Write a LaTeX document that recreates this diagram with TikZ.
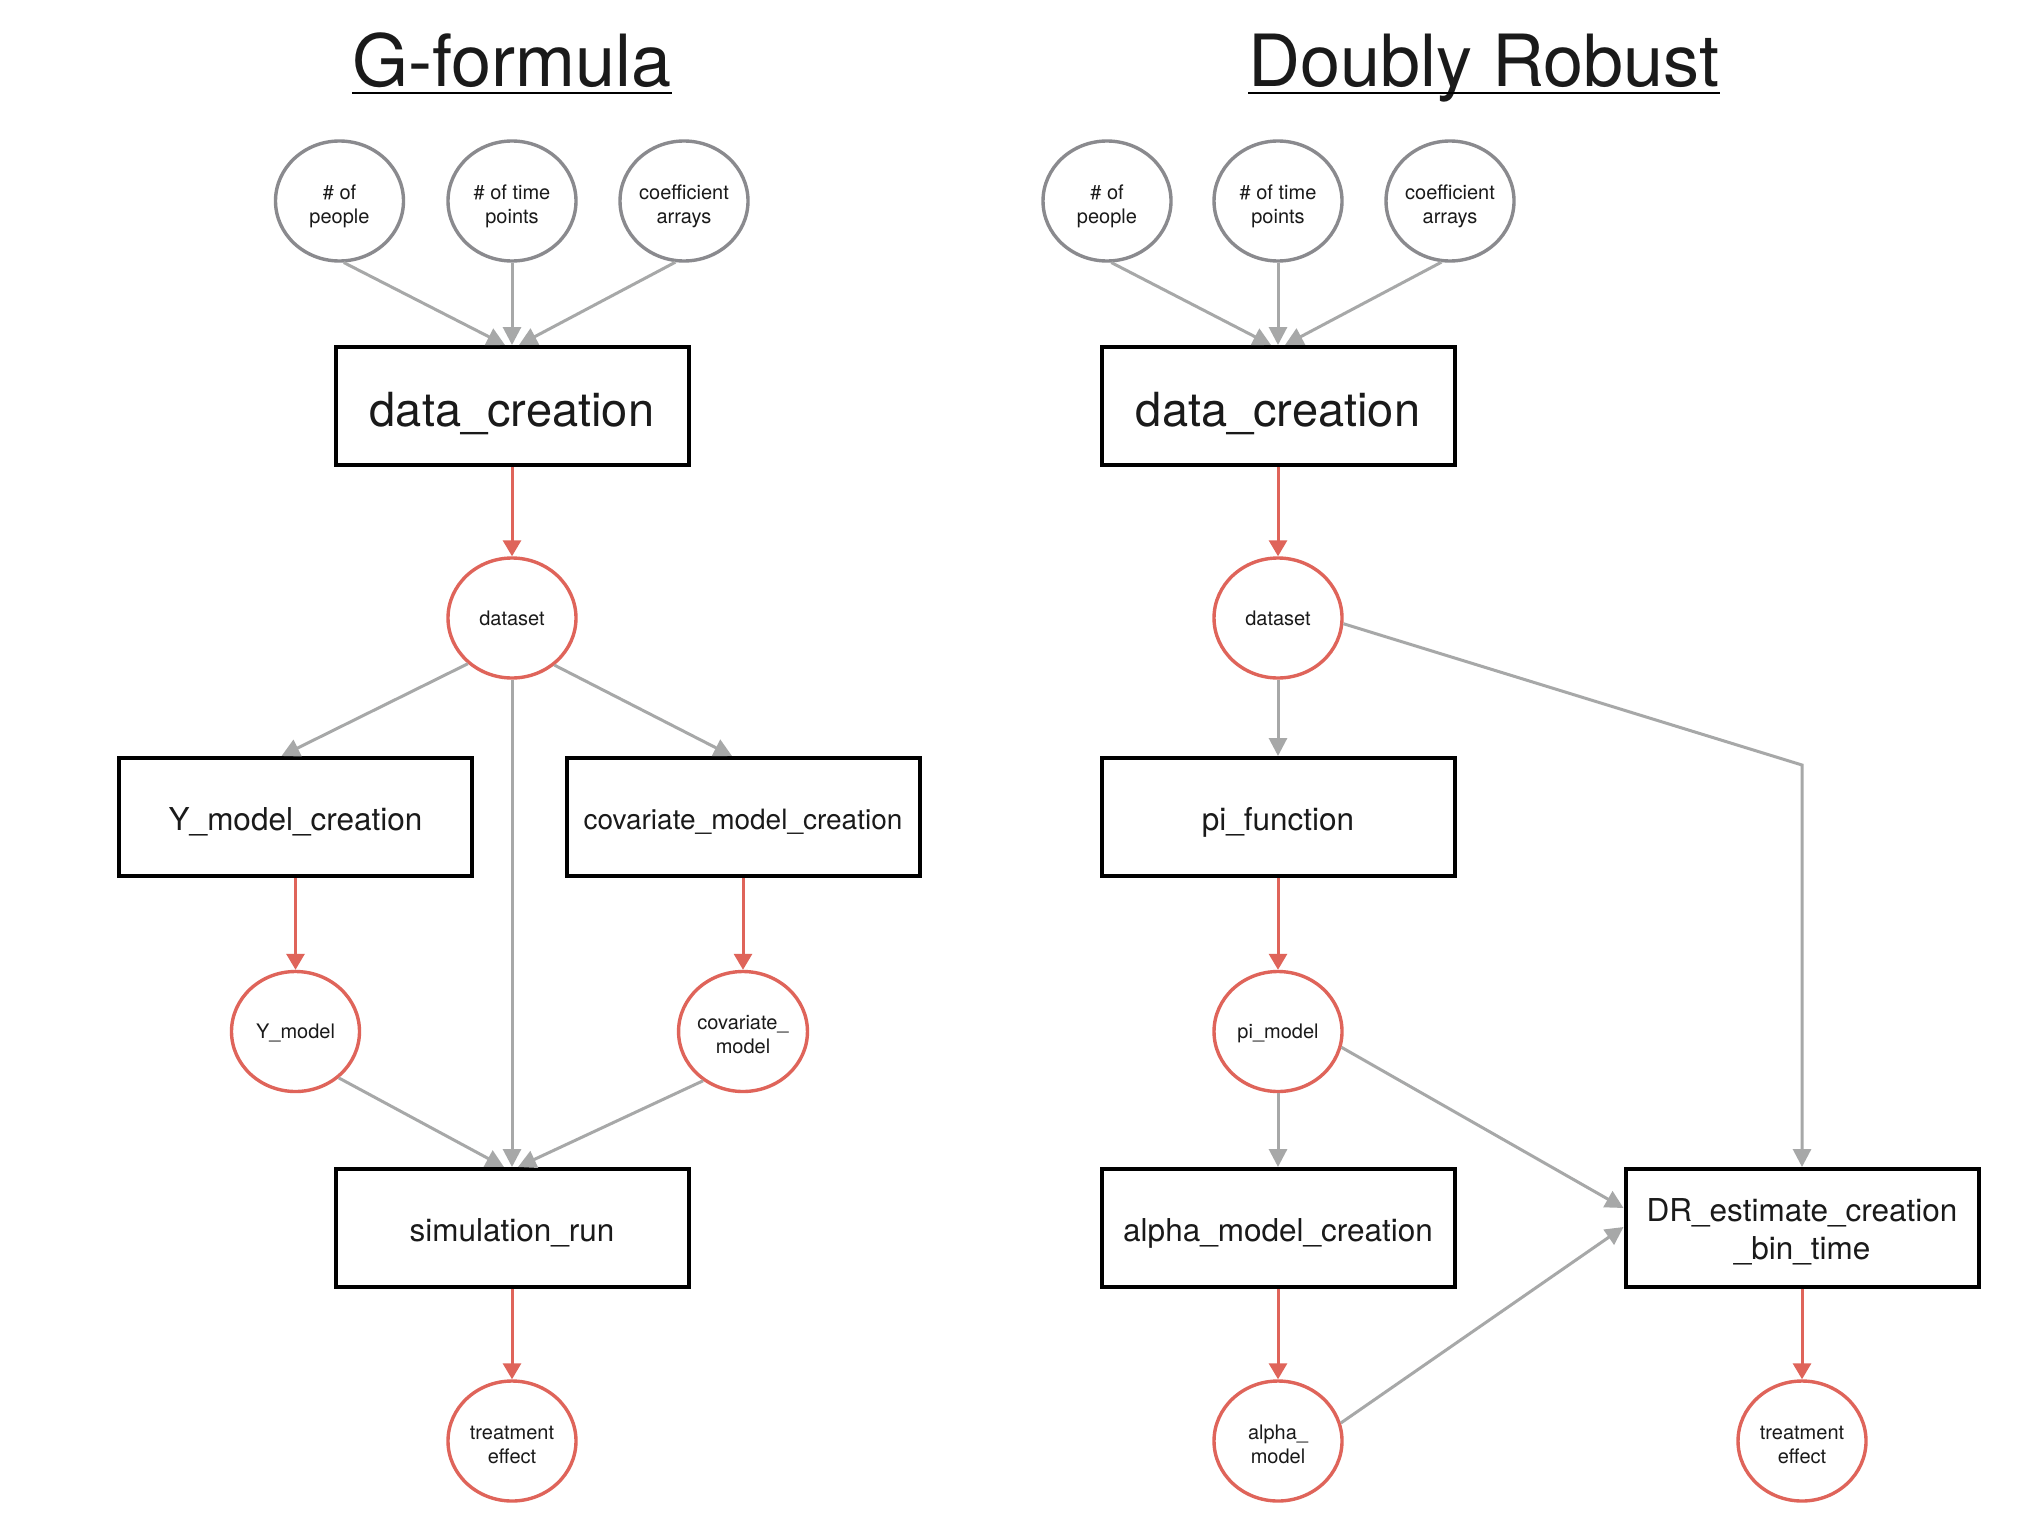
\documentclass[tikz,border=0pt]{standalone}
\usepackage{fontspec}
\setmainfont{TeX Gyre Heros}
\usetikzlibrary{shapes.geometric,arrows.meta,calc}
\definecolor{cgray}{HTML}{8A8A8E}
\definecolor{agray}{HTML}{A7A8A8}
\definecolor{cred}{HTML}{DF645A}
\definecolor{txt}{HTML}{1A1A1A}
\begin{document}
\begin{tikzpicture}[x=0.5pt,y=-0.5pt,
 every node/.style={text=txt},
 ttl/.style={font=\fontsize{36}{40}\selectfont, inner sep=0pt, anchor=base},
 gcirc/.style={ellipse, draw=cgray, line width=1.7pt, minimum width=64pt, minimum height=60pt, inner sep=0pt, align=center, font=\fontsize{10}{12}\selectfont, text height=7.4pt, text depth=0pt},
 rcirc/.style={gcirc, draw=cred},
 twol/.style={text height=22pt, text depth=0pt},
 boxn/.style={rectangle, draw=black, line width=2pt, minimum width=176.5pt, minimum height=59pt, align=center, font=\fontsize{15.75}{19}\selectfont, text height=13pt, text depth=0pt},
 bigbox/.style={boxn, font=\fontsize{23.5}{28}\selectfont, text height=20.8pt, text depth=0pt},
 garr/.style={draw=agray, line width=1.5pt, -{Triangle[length=9pt,width=9pt]}},
 rarr/.style={draw=cred, line width=1.5pt, -{Triangle[length=8pt,width=9pt]}},
 uline/.style={draw=black, line width=1.3pt}
]
\fill[white] (0,0) rectangle (2032,1514);
\useasboundingbox (0,0) rectangle (2032,1514);

% ---------- G-formula ----------
\node[ttl] (tG) at (512,87) {G-formula};
\draw[uline] ($(tG.base west)+(0,6)$) -- ($(tG.base east)+(0,6)$);
\node[gcirc, twol] (p1) at (339.5,201) {\# of\\people};
\node[gcirc, twol] (t1) at (512,201) {\# of time\\points};
\node[gcirc, twol] (c1) at (684,201) {coefficient\\arrays};
\node[bigbox] (dc1) at (512,406) {data\_creation};
\node[rcirc] (ds1) at (512,618) {dataset};
\node[boxn] (ymc) at (295.5,817) {Y\_model\_creation};
\node[boxn, font=\fontsize{14}{17}\selectfont, text height=12pt] (cmc) at (743,817) {covariate\_model\_creation};
\node[rcirc] (ym) at (295.5,1031.5) {Y\_model};
\node[rcirc, twol] (cm) at (743,1031.5) {covariate\_\\model};
\node[boxn] (sim) at (512,1228) {simulation\_run};
\node[rcirc, twol] (te1) at (512,1441) {treatment\\effect};

\draw[garr] (p1.-86) -- ($(dc1.north)+(-7,0)$);
\draw[garr] (t1.south) -- (dc1.north);
\draw[garr] (c1.-98) -- ($(dc1.north)+(7,0)$);
\draw[rarr] (dc1) -- (ds1);
\draw[garr] (ds1.-134) -- ($(ymc.north)+(-14,0)$);
\draw[garr] (ds1.south) -- (sim.north);
\draw[garr] (ds1.-48) -- ($(cmc.north)+(-11,0)$);
\draw[rarr] (ymc) -- (ym);
\draw[rarr] (cmc) -- (cm);
\draw[garr] (ym.-47) -- ($(sim.north)+(-8,0)$);
\draw[garr] (cm.-129) -- ($(sim.north)+(6,0)$);
\draw[rarr] (sim) -- (te1);

% ---------- Doubly Robust ----------
\node[ttl] (tD) at (1484,87) {Doubly Robust};
\draw[uline] ($(tD.base west)+(0,6)$) -- ($(tD.base east)+(0,6)$);
\node[gcirc, twol] (p2) at (1107,201) {\# of\\people};
\node[gcirc, twol] (t2) at (1278,201) {\# of time\\points};
\node[gcirc, twol] (c2) at (1450,201) {coefficient\\arrays};
\node[bigbox] (dc2) at (1278,406) {data\_creation};
\node[rcirc] (ds2) at (1278,618) {dataset};
\node[boxn] (pif) at (1278,817) {pi\_function};
\node[rcirc] (pim) at (1278,1031.5) {pi\_model};
\node[boxn] (amc) at (1278,1228) {alpha\_model\_creation};
\node[rcirc, twol] (am) at (1278,1441) {alpha\_\\model};
\node[boxn, text height=31pt] (dr) at (1802,1228) {DR\_estimate\_creation\\\_bin\_time};
\node[rcirc, twol] (te2) at (1802,1441) {treatment\\effect};
\coordinate (bend) at (1802,765);

\draw[garr] (p2.-86) -- ($(dc2.north)+(-7,0)$);
\draw[garr] (t2.south) -- (dc2.north);
\draw[garr] (c2.-98) -- ($(dc2.north)+(7,0)$);
\draw[rarr] (dc2) -- (ds2);
\draw[garr] (ds2) -- (pif);
\draw[garr] (ds2.-5) -- (bend) -- (dr.north);
\draw[rarr] (pif) -- (pim);
\draw[garr] (pim) -- (amc);
\draw[garr] (pim.-14) -- ($(dr.west)+(0,-20)$);
\draw[rarr] (amc) -- (am);
\draw[garr] (am.16) -- ($(dr.west)+(0,-1)$);
\draw[rarr] (dr) -- (te2);
\end{tikzpicture}
\end{document}
